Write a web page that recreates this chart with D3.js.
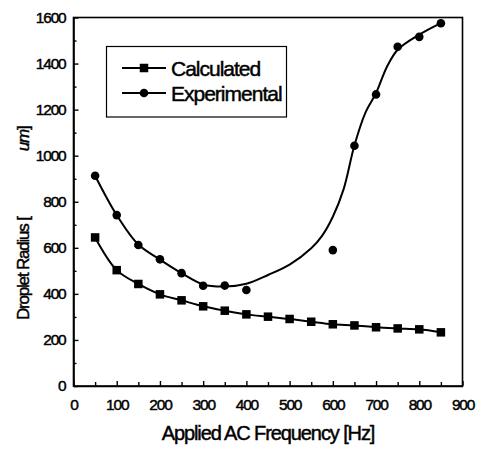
<!DOCTYPE html>
<html>
<head>
<meta charset="utf-8">
<script src="https://cdn.jsdelivr.net/npm/d3@7"></script>
<style>
  html, body { margin: 0; padding: 0; background: #fff; }
  svg { display: block; }
  text { font-family: "Liberation Sans", Arial, sans-serif; fill: #000; stroke: #000; stroke-width: 0.45px; }
</style>
</head>
<body>
<svg id="chart" width="478" height="449"></svg>
<script>
// ---- data ----
const calcFreq = [50,100,150,200,250,300,350,400,450,500,550,600,650,700,750,800,850];
const calculated = [645,503,443,398,372,346,327,311,301,291,279,268,263,255,250,246,233];

const expFreq = [50,100,150,200,250,300,350,400,600,650,700,750,800,850];
const experimental = [913,742,612,550,490,435,436,417,590,1043,1266,1473,1516,1575];

const expFitFreq = [50,100,150,200,250,300,350,400,450,500,550,575,600,625,650,675,700,725,750,800,850];
const expFit = [913,742,614,549,490,441,432,444,482,527,598,652,735,855,1045,1185,1272,1385,1460,1526,1576];

const xTicks = [0,100,200,300,400,500,600,700,800,900];
const xMinor = [50,150,250,350,450,550,650,750,850];
const yTicks = [0,200,400,600,800,1000,1200,1400,1600];
const yMinor = [100,300,500,700,900,1100,1300,1500];

const seriesNames = ["Calculated", "Experimental"];
const xTitle = "Applied AC Frequency [Hz]";

// ---- layout ----
const svg = d3.select("#chart");
const L = 73.5, R = 462.5, T = 17.5, B = 386;
const x = d3.scaleLinear().domain([0, 900]).range([L, R]);
const y = d3.scaleLinear().domain([0, 1600]).range([B, T]);

// frame
svg.append("rect").attr("x", L).attr("y", T).attr("width", R - L).attr("height", B - T)
  .attr("fill", "none").attr("stroke", "#000").attr("stroke-width", 1.6);

// axes ticks (inward)
const xAxis = d3.axisBottom(x).tickValues(xTicks).tickSizeInner(-5).tickSizeOuter(0).tickPadding(12)
  .tickFormat(d3.format("d"));
const gx = svg.append("g").attr("transform", `translate(0,${B})`).call(xAxis);
gx.select(".domain").attr("stroke-width", 1.6);
gx.selectAll(".tick line").attr("stroke-width", 1.4);
gx.selectAll("text").style("font-size", "15.5px").style("letter-spacing", "-1.2px")
  .attr("font-family", null).attr("dy", "0.75em");

const xAxisMinor = d3.axisBottom(x).tickValues(xMinor).tickSizeInner(-4).tickSizeOuter(0).tickFormat("");
const gxm = svg.append("g").attr("transform", `translate(0,${B})`).call(xAxisMinor);
gxm.select(".domain").remove();
gxm.selectAll(".tick line").attr("stroke-width", 1.4);

const yAxis = d3.axisLeft(y).tickValues(yTicks).tickSizeInner(-5).tickSizeOuter(0).tickPadding(8)
  .tickFormat(d3.format("d"));
const gy = svg.append("g").attr("transform", `translate(${L},0)`).call(yAxis);
gy.select(".domain").attr("stroke-width", 1.6);
gy.selectAll(".tick line").attr("stroke-width", 1.4);
gy.selectAll("text").style("font-size", "15.5px").style("letter-spacing", "-1.2px")
  .attr("font-family", null);

const yAxisMinor = d3.axisLeft(y).tickValues(yMinor).tickSizeInner(-3).tickSizeOuter(0).tickFormat("");
const gym = svg.append("g").attr("transform", `translate(${L},0)`).call(yAxisMinor);
gym.select(".domain").remove();
gym.selectAll(".tick line").attr("stroke-width", 1.4);

// ---- curves ----
const calcData = calcFreq.map((f, i) => [f, calculated[i]]);
const expData = expFreq.map((f, i) => [f, experimental[i]]);
const fitData = expFitFreq.map((f, i) => [f, expFit[i]]);

const line = d3.line().x(d => x(d[0])).y(d => y(d[1])).curve(d3.curveCatmullRom.alpha(0.5));

svg.append("path").datum(calcData).attr("d", line)
  .attr("fill", "none").attr("stroke", "#000").attr("stroke-width", 2);
svg.append("path").datum(fitData).attr("d", line)
  .attr("fill", "none").attr("stroke", "#000").attr("stroke-width", 2);

// markers
const sq = 8.5;
svg.append("g").selectAll("rect").data(calcData).join("rect")
  .attr("x", d => x(d[0]) - sq / 2).attr("y", d => y(d[1]) - sq / 2)
  .attr("width", sq).attr("height", sq).attr("fill", "#000");
svg.append("g").selectAll("circle").data(expData).join("circle")
  .attr("cx", d => x(d[0])).attr("cy", d => y(d[1])).attr("r", 4.3).attr("fill", "#000");

// ---- legend ----
const lg = svg.append("g");
lg.append("rect").attr("x", 106.5).attr("y", 46.5).attr("width", 180).attr("height", 70.5)
  .attr("fill", "#fff").attr("stroke", "#000").attr("stroke-width", 1.2);
const legY = [68, 93];
seriesNames.forEach((name, i) => {
  lg.append("line").attr("x1", 122).attr("x2", 166).attr("y1", legY[i]).attr("y2", legY[i])
    .attr("stroke", "#000").attr("stroke-width", 2);
  if (i === 0) {
    lg.append("rect").attr("x", 144 - sq / 2).attr("y", legY[i] - sq / 2).attr("width", sq).attr("height", sq).attr("fill", "#000");
  } else {
    lg.append("circle").attr("cx", 144).attr("cy", legY[i]).attr("r", 4.3).attr("fill", "#000");
  }
  lg.append("text").attr("x", 171).attr("y", legY[i]).attr("dy", "0.36em")
    .style("font-size", "21px").style("letter-spacing", "-1px").text(name);
});

// ---- axis titles ----
svg.append("text").attr("x", 268).attr("y", 440).attr("text-anchor", "middle")
  .style("font-size", "20px").style("letter-spacing", "-1.1px").text(xTitle);

const yt = svg.append("text").attr("transform", "translate(29,320) rotate(-90)")
  .style("font-size", "17px").style("letter-spacing", "-1.2px");
yt.append("tspan").text("Droplet Radius [");
yt.append("tspan").attr("dx", 66).style("font-style", "italic").text("um");
yt.append("tspan").text("]");
</script>
</body>
</html>
